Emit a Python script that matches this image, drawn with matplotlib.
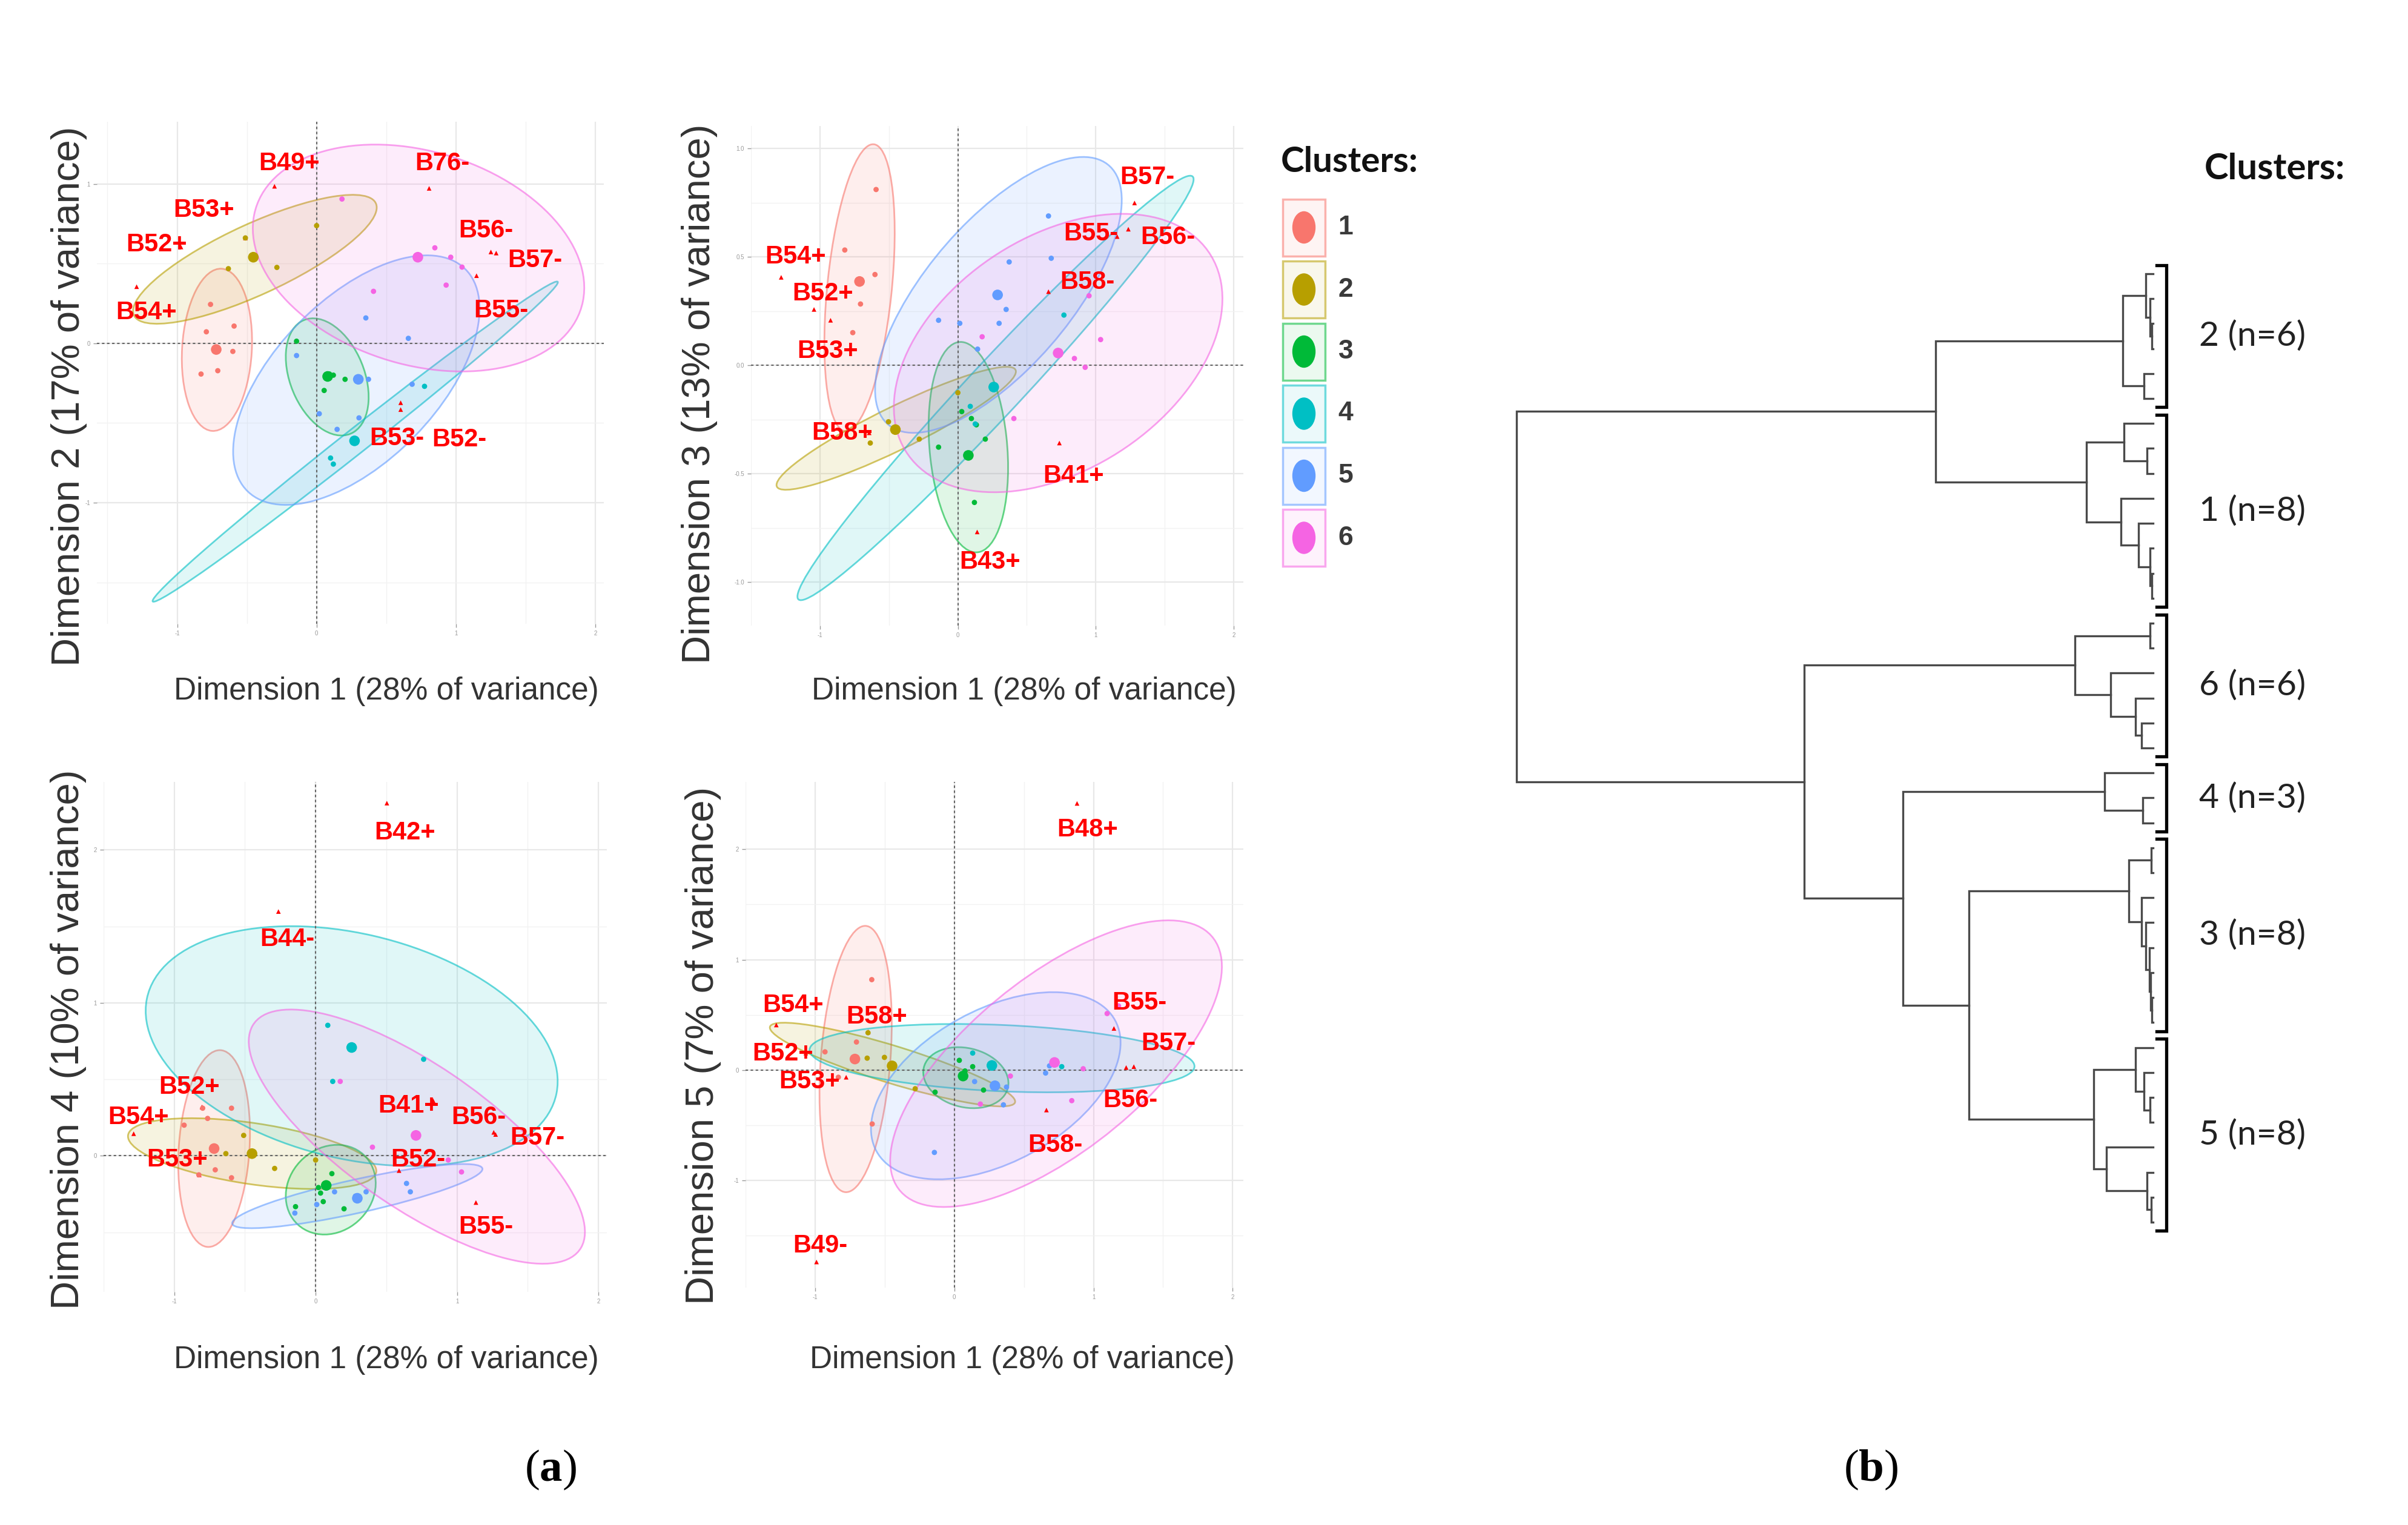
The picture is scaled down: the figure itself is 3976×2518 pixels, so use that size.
import numpy as np
import matplotlib
matplotlib.use('Agg')
import matplotlib.pyplot as plt
from matplotlib.patches import Ellipse, Rectangle
from matplotlib.colors import to_rgba

plt.rcParams['font.family'] = ['Liberation Sans', 'DejaVu Sans']
plt.rcParams['mathtext.fontset'] = 'custom'
plt.rcParams['mathtext.rm'] = 'Liberation Serif'
plt.rcParams['mathtext.bf'] = 'Liberation Serif:bold'

W, H = 3976, 2518

cluster_names = ['1', '2', '3', '4', '5', '6']
cluster_colors = ['#F8766D', '#B79F00', '#00BA38', '#00BFC4', '#619CFF', '#F564E3']

# ---- panel 1: dim1 vs dim2 ----
a_px = [[-0.761, -0.791, -0.592, -0.601, -0.829, -0.709],
        [-0.511, -0.633, -0.285, 0.0],
        [-0.144, 0.073, 0.12, 0.204, 0.054, 0.092],
        [0.774, 0.1, 0.12],
        [0.353, 0.658, -0.144, 0.372, 0.019, 0.304, 0.147, 0.685],
        [0.182, 0.848, 0.962, 1.043, 0.929, 0.408]]
a_py = [[0.244, 0.072, 0.108, -0.051, -0.193, -0.172],
        [0.661, 0.468, 0.476, 0.738],
        [0.013, -0.211, -0.2, -0.226, -0.296, -0.193],
        [-0.27, -0.72, -0.758],
        [0.159, 0.031, -0.077, -0.226, -0.442, -0.468, -0.54, -0.257],
        [0.905, 0.599, 0.54, 0.478, 0.365, 0.326]]
a_cx = [-0.720, -0.454, 0.079, 0.272, 0.299, 0.726]
a_cy = [-0.039, 0.540, -0.208, -0.612, -0.226, 0.54]
# ellipse: centre x, centre y, major, minor, angle
a_ell = [[-0.715, -0.041, 1.02, 0.5, 86],
         [-0.443, 0.527, 1.873, 0.45, 21.7],
         [0.076, -0.211, 0.79, 0.52, -61],
         [0.277, -0.617, 3.53, 0.16, 34.6],
         [0.285, -0.231, 2.1, 1.08, 39],
         [0.731, 0.535, 2.42, 1.35, -13]]
a_sup = ['B49+', 'B76-', 'B53+', 'B52+', 'B54+', 'B56-', 'B57-', 'B55-', 'B53-', 'B52-']
a_sx = [-0.302, 0.807, -0.511, -0.973, -1.291, 1.25, 1.288, 1.147, 0.603, 0.603]
a_sy = [0.985, 0.972, 0.661, 0.604, 0.355, 0.573, 0.566, 0.424, -0.373, -0.416]
a_lx = [-0.198, 0.902, -0.81, -1.149, -1.223, 1.215, 1.568, 1.323, 0.576, 1.024]
a_ly = [1.126, 1.126, 0.835, 0.617, 0.193, 0.707, 0.519, 0.206, -0.599, -0.604]

# ---- panel 2: dim1 vs dim3 ----
b_px = [[-0.593, -0.820, -0.601, -0.706, -0.762],
        [0.0, -0.503, -0.280, -0.635],
        [0.028, 0.098, 0.134, 0.199, -0.14, 0.12],
        [0.769, 0.09, 0.126],
        [0.657, 0.677, 0.372, 0.35, 0.299, -0.14, 0.014, 0.143],
        [0.951, 1.035, 0.845, 0.923, 0.176, 0.406]]
b_py = [[0.811, 0.532, 0.419, 0.283, 0.151],
        [-0.126, -0.260, -0.34, -0.358],
        [-0.213, -0.245, -0.274, -0.34, -0.377, -0.632],
        [0.232, -0.189, -0.27],
        [0.689, 0.494, 0.477, 0.258, 0.194, 0.208, 0.194, 0.075],
        [0.321, 0.119, 0.032, -0.009, 0.132, -0.245]]
b_cx = [-0.713, -0.453, 0.076, 0.26, 0.288, 0.727]
b_cy = [0.387, -0.296, -0.415, -0.1, 0.325, 0.057]
b_ell = [[-0.713, 0.358, 1.34, 0.465, 80.4],
         [-0.447, -0.29, 1.814, 0.21, 17],
         [0.076, -0.377, 0.98, 0.56, -80.2],
         [0.273, -0.104, 3.463, 0.3, 34.1],
         [0.294, 0.325, 2.04, 0.81, 31.6],
         [0.727, 0.057, 2.45, 1.15, 15.3]]
b_sup = ['B57-', 'B55-', 'B56-', 'B58-', 'B54+', 'B52+', 'B53+', 'B58+', 'B41+', 'B43+']
b_sx = [1.281, 1.155, 1.236, 0.657, -1.281, -1.043, -0.923, -0.643, 0.736, 0.14]
b_sy = [0.749, 0.594, 0.628, 0.34, 0.406, 0.258, 0.208, -0.311, -0.358, -0.768]
b_lx = [1.371, 0.965, 1.524, 0.937, -1.175, -0.979, -0.943, -0.839, 0.839, 0.232]
b_ly = [0.868, 0.608, 0.589, 0.383, 0.5, 0.33, 0.066, -0.311, -0.509, -0.906]

# ---- panel 3: dim1 vs dim4 ----
c_px = [[-0.799, -0.595, -0.764, -0.930, -0.71, -0.595, -0.826],
        [-0.509, -0.635, -0.29, 0.0],
        [0.115, 0.035, 0.054, -0.142, 0.201, 0.02],
        [0.086, 0.764, 0.121],
        [0.008, 0.134, 0.282, 0.357, 0.643, 0.670, -0.147],
        [0.174, 0.402, 0.938, 1.032]]
c_py = [[0.311, 0.311, 0.244, 0.2, -0.092, -0.144, -0.125],
        [0.133, 0.014, -0.083, -0.028],
        [-0.117, -0.244, -0.3, -0.333, -0.347, -0.208],
        [0.853, 0.631, 0.486],
        [-0.319, -0.236, -0.264, -0.236, -0.181, -0.236, -0.375],
        [0.486, 0.056, -0.028, -0.106]]
c_cx = [-0.718, -0.45, 0.075, 0.255, 0.295, 0.71]
c_cy = [0.047, 0.014, -0.194, 0.708, -0.278, 0.133]
c_ell = [[-0.718, 0.047, 1.29, 0.5, 85.8],
         [-0.449, 0.014, 1.772, 0.4, -7.75],
         [0.107, -0.222, 0.66, 0.56, 30],
         [0.255, 0.717, 2.963, 1.475, -12],
         [0.295, -0.264, 1.806, 0.22, 11.5],
         [0.716, 0.125, 2.74, 0.955, -32]]
c_sup = ['B42+', 'B44-', 'B52+', 'B54+', 'B53+', 'B41+', 'B56-', 'B57-', 'B52-', 'B55-']
c_sx = [0.504, -0.263, -0.804, -1.287, -0.823, 0.831, 1.26, 1.273, 0.59, 1.134]
c_sy = [2.306, 1.597, 0.319, 0.144, -0.125, 0.361, 0.153, 0.139, -0.097, -0.306]
c_lx = [0.63, -0.201, -0.893, -1.252, -0.979, 0.657, 1.153, 1.568, 0.724, 1.206]
c_ly = [2.111, 1.417, 0.45, 0.25, -0.028, 0.325, 0.25, 0.117, -0.028, -0.467]

# ---- panel 4: dim1 vs dim5 ----
d_px = [[-0.593, -0.703, -0.929, -0.59, -0.833],
        [-0.62, -0.502, -0.626, -0.281],
        [0.077, -0.138, 0.21, 0.132, 0.036],
        [0.132, 0.772],
        [0.375, 0.656, 0.684, 0.353, -0.143, 0.146],
        [1.098, 1.18, 0.926, 0.844, 0.403, 0.187]]
d_py = [[0.819, 0.254, 0.165, -0.488, -0.065],
        [0.338, 0.115, 0.108, -0.169],
        [-0.008, -0.2, -0.181, 0.031, 0.088],
        [0.154, 0.031],
        [-0.154, -0.027, 0.038, -0.315, -0.746, -0.104],
        [0.512, 0.581, 0.012, -0.277, -0.054, -0.308]]
d_cx = [-0.714, -0.447, 0.063, 0.27, 0.292, 0.72]
d_cy = [0.1, 0.038, -0.054, 0.042, -0.142, 0.069]
d_ell = [[-0.709, 0.1, 2.416, 0.5, 86.6],
         [-0.444, 0.05, 1.89, 0.33, -21.5],
         [0.083, -0.069, 0.64, 0.52, -30],
         [0.343, 0.108, 2.77, 0.6, -3.2],
         [0.298, -0.142, 2.11, 1.28, 41.5],
         [0.731, 0.058, 3.23, 1.41, 48.6]]
d_sup = ['B48+', 'B54+', 'B58+', 'B52+', 'B53+', 'B55-', 'B57-', 'B56-', 'B58-', 'B49-']
d_sx = [0.882, -1.279, -0.618, -1.067, -0.777, 1.147, 1.29, 1.235, 0.662, -0.99]
d_sy = [2.415, 0.408, 0.346, 0.154, -0.065, 0.377, 0.031, 0.023, -0.362, -1.738]
d_lx = [0.959, -1.158, -0.557, -1.232, -1.039, 1.332, 1.538, 1.263, 0.725, -0.962]
d_ly = [2.177, 0.588, 0.481, 0.146, -0.104, 0.608, 0.242, -0.277, -0.681, -1.592]

dim_labels = ['Dimension 2 (17% of variance)', 'Dimension 3 (13% of variance)',
              'Dimension 4 (10% of variance)', 'Dimension 5 (7% of variance)']
x_label = 'Dimension 1 (28% of variance)'

# ---- dendrogram: [height, left, right], 0 = leaf ----
tree_c2 = [0.52, [0.12, 0, [0.05, 0, [0.02, 0, 0]]], [0.15, 0, 0]]
tree_c1 = [1.15, [0.5, 0, [0.1, 0, 0]], [0.55, 0, [0.25, 0, [0.05, 0, [0.02, 0, 0]]]]]
tree_c6 = [1.35, [0.05, 0, 0], [0.73, 0, [0.3, 0, [0.2, 0, 0]]]]
tree_c4 = [0.83, 0, [0.18, 0, 0]]
tree_c3 = [0.42, [0.03, 0, 0], [0.2, 0, [0.12, 0, [0.06, 0, [0.04, 0, [0.02, 0, 0]]]]]]
tree_c5 = [1.02, [0.3, 0, [0.15, 0, [0.05, 0, 0]]], [0.8, 0, [0.1, 0, [0.03, 0, 0]]]]
tree = [10.98, [3.75, tree_c2, tree_c1],
        [6.02, tree_c6, [4.32, tree_c4, [3.18, tree_c3, tree_c5]]]]
dendro_clusters = ['2', '1', '6', '4', '3', '5']
dendro_n = [6, 8, 6, 3, 8, 8]


def px_rect(x0, y0, x1, y1):
    return [x0 / W, 1 - y1 / H, (x1 - x0) / W, (y1 - y0) / H]


def draw_panel(ax, px, py, cx, cy, ell, sup, sx, sy, lx, ly, xlim, ylim, yticks, yminor, ytl):
    for k in range(6):
        c = cluster_colors[k]
        e = ell[k]
        ax.add_patch(Ellipse((e[0], e[1]), e[2], e[3], angle=e[4],
                             facecolor=to_rgba(c, 0.12), edgecolor=to_rgba(c, 0.6),
                             lw=2.0, zorder=1))
    ax.scatter(sx, sy, marker='^', s=30, color='#FF0000', zorder=3, edgecolors='none')
    for k in range(6):
        c = cluster_colors[k]
        ax.scatter(px[k], py[k], s=40, color=c, zorder=4, edgecolors='none')
        ax.scatter([cx[k]], [cy[k]], s=160, color=c, zorder=4, edgecolors='none')
    for i in range(len(sup)):
        ax.text(lx[i], ly[i], sup[i], color='#FF0000', fontsize=30, fontweight='bold',
                ha='center', va='center', zorder=6)
    ax.axhline(0, color='#666666', lw=1.5, ls=(0, (2, 2)), zorder=2)
    ax.axvline(0, color='#666666', lw=1.5, ls=(0, (2, 2)), zorder=2)
    ax.set_xlim(xlim)
    ax.set_ylim(ylim)
    ax.set_xticks([-1, 0, 1, 2])
    ax.set_xticklabels(['-1', '0', '1', '2'])
    ax.set_xticks([-1.5, -0.5, 0.5, 1.5], minor=True)
    ax.set_yticks(yticks)
    ax.set_yticklabels(ytl)
    ax.set_yticks(yminor, minor=True)
    ax.grid(which='major', color='#e8e8e8', lw=1.6)
    ax.grid(which='minor', color='#f2f2f2', lw=1.0)
    ax.set_axisbelow(True)
    for s in ax.spines.values():
        s.set_visible(False)
    ax.tick_params(which='major', labelsize=7, colors='#9a9a9a', length=4, width=1, pad=4)
    ax.tick_params(which='minor', length=0)


fig = plt.figure(figsize=(W / 100, H / 100), dpi=100)

ax1 = fig.add_axes(px_rect(160, 201, 997, 1030))
draw_panel(ax1, a_px, a_py, a_cx, a_cy, a_ell, a_sup, a_sx, a_sy, a_lx, a_ly,
           (-1.576, 2.06), (-1.76, 1.39), [-1, 0, 1], [-1.5, -0.5, 0.5], ['-1', '0', '1'])

ax2 = fig.add_axes(px_rect(1240, 208, 2053, 1033))
draw_panel(ax2, b_px, b_py, b_cx, b_cy, b_ell, b_sup, b_sx, b_sy, b_lx, b_ly,
           (-1.497, 2.07), (-1.2, 1.104), [-1, -0.5, 0, 0.5, 1],
           [-0.75, -0.25, 0.25, 0.75], ['-1.0', '-0.5', '0.0', '0.5', '1.0'])

ax3 = fig.add_axes(px_rect(171, 1291, 1002, 2133))
draw_panel(ax3, c_px, c_py, c_cx, c_cy, c_ell, c_sup, c_sx, c_sy, c_lx, c_ly,
           (-1.50, 2.06), (-0.89, 2.445), [0, 1, 2], [-0.5, 0.5, 1.5], ['0', '1', '2'])

ax4 = fig.add_axes(px_rect(1231, 1291, 2053, 2126))
draw_panel(ax4, d_px, d_py, d_cx, d_cy, d_ell, d_sup, d_sx, d_sy, d_lx, d_ly,
           (-1.48, 2.077), (-1.97, 2.61), [-1, 0, 1, 2], [-1.5, -0.5, 0.5, 1.5],
           ['-1', '0', '1', '2'])

# axis titles
for (xx, yy) in [(638, 1141), (1691, 1141), (638, 2245), (1688, 2245)]:
    fig.text(xx / W, 1 - yy / H, x_label, ha='center', va='center', fontsize=37, color='#333333')
for lab, (xx, yy) in zip(dim_labels, [(114, 654), (1155, 650), (113, 1716), (1161, 1726)]):
    fig.text(xx / W, 1 - yy / H, lab, ha='center', va='center', rotation=90,
             fontsize=47, color='#333333')

# cluster legend
fig.text(2228 / W, 1 - 268 / H, 'Clusters:', ha='center', va='center', fontsize=42,
         fontweight='bold', family=['Lato', 'DejaVu Sans'], color='#111111')
lax = fig.add_axes(px_rect(2090, 300, 2300, 960))
lax.set_xlim(2090, 2300)
lax.set_ylim(960, 300)
lax.axis('off')
for k in range(6):
    yc = 375.5 + 102.5 * k
    c = cluster_colors[k]
    lax.add_patch(Rectangle((2118, yc - 47), 70, 94, facecolor=to_rgba(c, 0.08),
                            edgecolor=to_rgba(c, 0.55), lw=2.5))
    lax.add_patch(Ellipse((2153, yc), 37, 52, color=c))
    lax.text(2222, yc, cluster_names[k], ha='center', va='center', fontsize=32,
             fontweight='bold', color='#3a3a3a')

# dendrogram
dax = fig.add_axes(px_rect(2400, 200, 3950, 2100))
dax.set_xlim(12.07, -4.13)
dax.set_ylim(39.99, -6.115)
dax.axis('off')


def draw_node(node, counter):
    if not isinstance(node, list):
        y = counter[0]
        counter[0] += 1
        return y, 0.0
    h, a, b = node
    ya, ha = draw_node(a, counter)
    yb, hb = draw_node(b, counter)
    dax.plot([ha, h, h, hb], [ya, ya, yb, yb], color='#4a4a4a', lw=2.4,
             solid_joinstyle='miter')
    return (ya + yb) / 2, h


draw_node(tree, [0])

start = 0
for name, n in zip(dendro_clusters, dendro_n):
    y0 = start - 0.35
    y1 = start + n - 1 + 0.35
    dax.plot([-0.06, -0.23, -0.23, -0.06], [y0, y0, y1, y1], color='black', lw=3.8,
             clip_on=False, solid_joinstyle='miter')
    dax.text(-0.8, (y0 + y1) / 2, '%s (n=%d)' % (name, n), ha='left', va='center',
             fontsize=41, family=['Lato', 'DejaVu Sans'], color='#222222')
    start += n

fig.text(3756 / W, 1 - 279 / H, 'Clusters:', ha='center', va='center', fontsize=43,
         fontweight='bold', family=['Lato', 'DejaVu Sans'], color='#111111')

# panel letters
fig.text(909 / W, 1 - 2427 / H, r'($\mathbf{a}$)', ha='center', va='center',
         fontsize=54, family=['Liberation Serif', 'DejaVu Serif'])
fig.text(3089 / W, 1 - 2427 / H, r'($\mathbf{b}$)', ha='center', va='center',
         fontsize=54, family=['Liberation Serif', 'DejaVu Serif'])

fig.savefig('out.png', dpi=100)
